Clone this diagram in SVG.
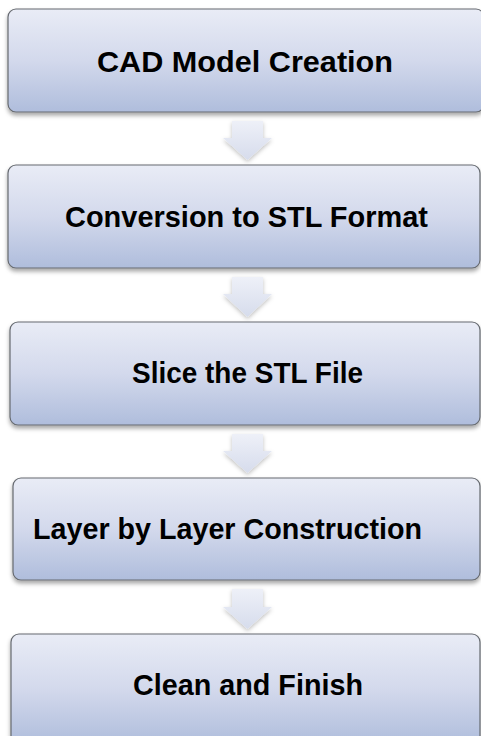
<svg xmlns="http://www.w3.org/2000/svg" width="481" height="736" viewBox="0 0 481 736">
<defs>
<linearGradient id="boxGrad" x1="0" y1="0" x2="0" y2="1">
<stop offset="0" stop-color="#e9ecf6"/>
<stop offset="0.5" stop-color="#d3d9ec"/>
<stop offset="1" stop-color="#afbddc"/>
</linearGradient>
<linearGradient id="arrGrad" x1="0" y1="0" x2="0" y2="1">
<stop offset="0" stop-color="#eef0f8"/>
<stop offset="1" stop-color="#d6dcec"/>
</linearGradient>
<filter id="shadow" x="-5%" y="-10%" width="110%" height="130%">
<feDropShadow dx="0" dy="3" stdDeviation="2" flood-color="#000" flood-opacity="0.35"/>
</filter>
<filter id="ashadow" x="-20%" y="-20%" width="140%" height="150%">
<feDropShadow dx="0" dy="2" stdDeviation="2" flood-color="#000" flood-opacity="0.25"/>
</filter>
</defs>
<style>
.box{fill:url(#boxGrad);stroke:#666a70;stroke-width:1.2;filter:url(#shadow);}
.arr{fill:url(#arrGrad);stroke:none;filter:url(#ashadow);}
.lbl{font-family:"Liberation Sans",Arial,sans-serif;font-weight:bold;font-size:30px;fill:#000;}
</style>
<g id="connectors">
<path class="arr" d="M232,121 H263 V138 H272 L247.5,160 L223,138 H232 Z"/>
<path class="arr" d="M232,277 H263 V294 H272 L247.5,317 L223,294 H232 Z"/>
<path class="arr" d="M232,434 H263 V451 H272 L247.5,473 L223,451 H232 Z"/>
<path class="arr" d="M232,589 H263 V607 H272 L247.5,629 L223,607 H232 Z"/>
</g>
<g id="node1">
<rect class="box" x="8" y="9" width="476" height="103" rx="8"/>
<text class="lbl" x="97" y="72" textLength="296" lengthAdjust="spacingAndGlyphs">CAD Model Creation</text>
</g>
<g id="node2">
<rect class="box" x="8" y="165" width="472" height="103" rx="8"/>
<text class="lbl" x="65" y="227" textLength="363" lengthAdjust="spacingAndGlyphs">Conversion to STL Format</text>
</g>
<g id="node3">
<rect class="box" x="10" y="322" width="470" height="103" rx="8"/>
<text class="lbl" x="132" y="383" textLength="231" lengthAdjust="spacingAndGlyphs">Slice the STL File</text>
</g>
<g id="node4">
<rect class="box" x="13" y="478" width="467" height="102" rx="8"/>
<text class="lbl" x="33" y="539" textLength="389" lengthAdjust="spacingAndGlyphs">Layer by Layer Construction</text>
</g>
<g id="node5">
<rect class="box" x="11" y="634" width="469" height="110" rx="8"/>
<text class="lbl" x="133" y="695" textLength="230" lengthAdjust="spacingAndGlyphs">Clean and Finish</text>
</g>
</svg>
